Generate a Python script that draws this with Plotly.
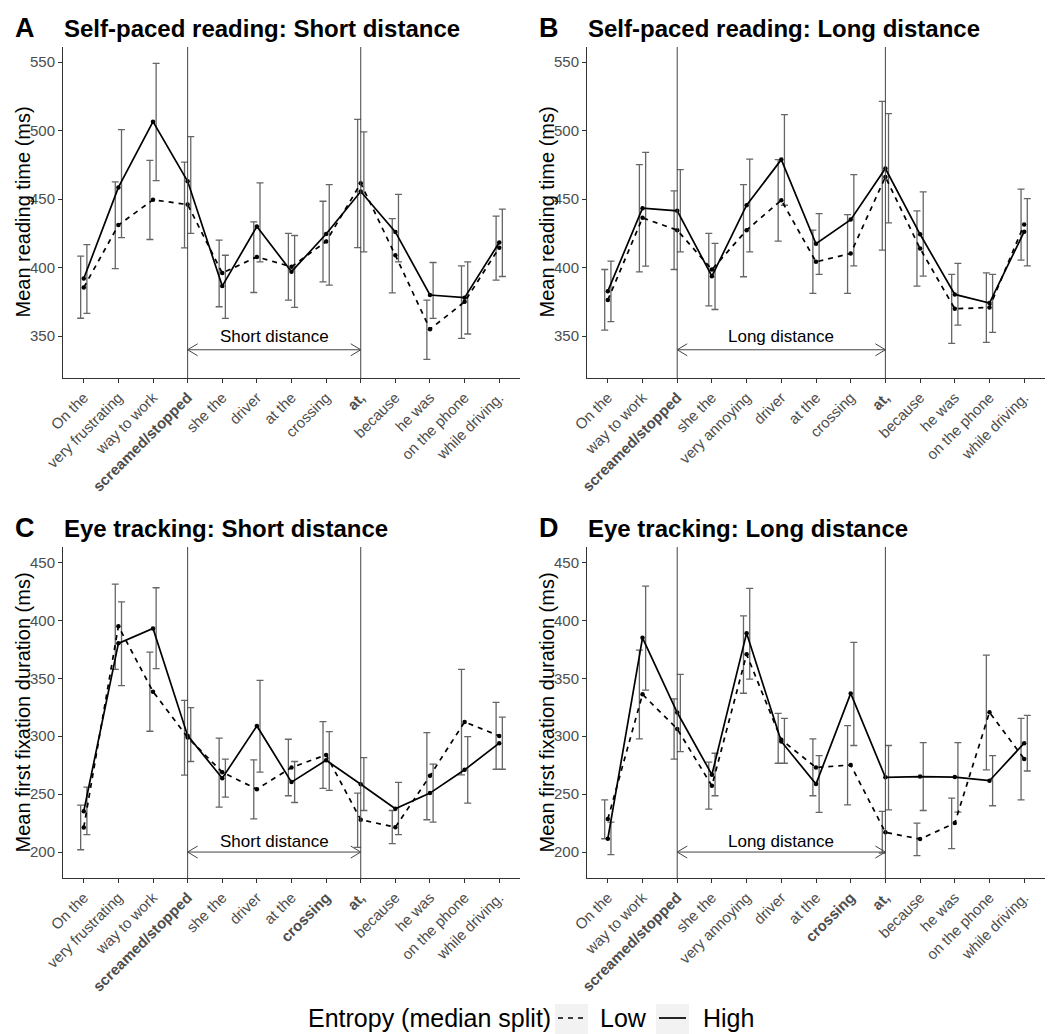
import plotly.graph_objects as go

# ---------------- data ----------------
cats_short = ["On the", "very frustrating", "way to work", "<b>screamed/stopped</b>", "she the", "driver",
              "at the", "crossing", "<b>at,</b>", "because", "he was", "on the phone", "while driving."]
cats_long = ["On the", "way to work", "<b>screamed/stopped</b>", "she the", "very annoying", "driver",
             "at the", "crossing", "<b>at,</b>", "because", "he was", "on the phone", "while driving."]
cats_short_et = ["On the", "very frustrating", "way to work", "<b>screamed/stopped</b>", "she the", "driver",
                 "at the", "<b>crossing</b>", "<b>at,</b>", "because", "he was", "on the phone", "while driving."]
cats_long_et = ["On the", "way to work", "<b>screamed/stopped</b>", "she the", "very annoying", "driver",
                "at the", "<b>crossing</b>", "<b>at,</b>", "because", "he was", "on the phone", "while driving."]

# Panel A: self-paced reading, short distance
low_mean_A = [385.5, 431, 449.5, 446, 396, 407.8, 400.6, 419, 461.5, 409, 355, 375, 414.5]
low_lo_A = [363, 399.3, 420.5, 414.4, 371.4, 381.8, 376.3, 389.6, 414.6, 381.6, 333, 348.3, 390.8]
low_hi_A = [408.3, 462.5, 478.3, 477, 420, 433.4, 424.9, 448.4, 508.2, 435.8, 376.3, 401.3, 437.5]
high_mean_A = [392, 458.5, 506.5, 463, 386.5, 430, 397, 424.5, 455.5, 426, 380, 378, 418.3]
high_lo_A = [366.5, 421.9, 463.5, 424.9, 362.9, 404.2, 370.9, 387.2, 411.5, 404.2, 362.9, 351.5, 393.5]
high_hi_A = [416.8, 500.7, 549, 495.6, 409, 461.8, 423.4, 460.6, 499, 453.5, 403.7, 404.2, 442.6]

# Panel B: self-paced reading, long distance
low_mean_B = [376.3, 436.3, 427.3, 398.6, 427.3, 449.2, 404.2, 410.3, 466.2, 413.9, 369.9, 370.9, 431.5]
low_lo_B = [354.4, 396.9, 398.6, 372.1, 393.3, 419.3, 381.1, 381.1, 412.7, 386.5, 344.7, 345.4, 405.4]
low_hi_B = [398.6, 475.2, 456, 424.9, 460.6, 478.8, 427.3, 438.7, 521.3, 441.4, 395, 396.2, 457.2]
high_mean_B = [382.8, 443.3, 441.4, 393.7, 445.5, 478.8, 417.4, 435, 472.3, 424.3, 380.4, 374.1, 426.2]
high_lo_B = [360.5, 401.0, 411.5, 369.4, 411.5, 445.5, 395, 401.3, 432.6, 393.7, 358, 352.7, 401.3]
high_hi_B = [404.7, 484.1, 471.5, 417.6, 479.2, 511.6, 439.4, 467.9, 512.3, 455.2, 403, 395, 450.4]

# Panel C: eye tracking, short distance
low_mean_C = [221.3, 395, 338.5, 299, 269, 254.3, 273, 283.9, 227.9, 221.5, 265.8, 312.4, 300.3]
low_lo_C = [202, 357.8, 304.3, 266.4, 238.8, 228.7, 248.6, 254.9, 204.0, 207.2, 227.9, 266.7, 271.5]
low_hi_C = [240.5, 431.3, 372.7, 331, 298.3, 279.6, 297.4, 312.6, 250.9, 235.9, 303.2, 357.8, 329.3]
high_mean_C = [235.2, 380.2, 393.1, 300.5, 263.8, 308.9, 260.4, 279.3, 258.6, 237.4, 250.9, 271, 294]
high_lo_C = [215, 343.7, 358.3, 278.2, 247.4, 269, 242.8, 253.2, 235.9, 215, 225.9, 242.2, 271.5]
high_hi_C = [256, 416.1, 428.2, 324.7, 280.2, 348.3, 278.2, 304, 281.6, 260.1, 275.9, 299.7, 316.5]

# Panel D: eye tracking, long distance
low_mean_D = [228.5, 336.2, 306.3, 257.2, 370.7, 297, 273, 275.2, 217, 211.2, 225, 320.7, 280.4]
low_lo_D = [211.5, 297.7, 280.2, 237.1, 337.1, 276.7, 248.6, 240.8, 199, 196.9, 202.9, 271, 245]
low_hi_D = [245.1, 374.4, 332.2, 277.6, 404, 319.8, 297.7, 309.2, 235.1, 225, 246.5, 370.1, 315.5]
high_mean_D = [211.5, 385, 320.5, 266.8, 389, 295.5, 258.7, 337, 264.5, 265.2, 264.7, 261.6, 294]
high_lo_D = [197.7, 339.9, 286.8, 248.6, 349.4, 276.7, 234.2, 292, 236.5, 235.9, 234.5, 240, 270]
high_hi_D = [225.9, 429.6, 353.4, 285.3, 427.6, 315.5, 283.3, 381, 292, 294.5, 294.5, 283.3, 318]

legend_title = "Entropy (median split)"
legend_labels = ["Low", "High"]

panels = [
    dict(letter="A", title="Self-paced reading: Short distance", cats=cats_short,
         low=(low_mean_A, low_lo_A, low_hi_A), high=(high_mean_A, high_lo_A, high_hi_A),
         vlines=(4, 9), span="Short distance", yrange=(319.4, 561), ytick=[350, 400, 450, 500, 550],
         ytitle="Mean reading time (ms)", arrow_y=340, text_y=349.5),
    dict(letter="B", title="Self-paced reading: Long distance", cats=cats_long,
         low=(low_mean_B, low_lo_B, low_hi_B), high=(high_mean_B, high_lo_B, high_hi_B),
         vlines=(3, 9), span="Long distance", yrange=(319.4, 561), ytick=[350, 400, 450, 500, 550],
         ytitle="Mean reading time (ms)", arrow_y=340, text_y=349.5),
    dict(letter="C", title="Eye tracking: Short distance", cats=cats_short_et,
         low=(low_mean_C, low_lo_C, low_hi_C), high=(high_mean_C, high_lo_C, high_hi_C),
         vlines=(4, 9), span="Short distance", yrange=(177.6, 463.4), ytick=[200, 250, 300, 350, 400, 450],
         ytitle="Mean first fixation duration (ms)", arrow_y=200, text_y=209),
    dict(letter="D", title="Eye tracking: Long distance", cats=cats_long_et,
         low=(low_mean_D, low_lo_D, low_hi_D), high=(high_mean_D, high_lo_D, high_hi_D),
         vlines=(3, 9), span="Long distance", yrange=(177.6, 463.4), ytick=[200, 250, 300, 350, 400, 450],
         ytitle="Mean first fixation duration (ms)", arrow_y=200, text_y=209),
]

# The page body has an 8px margin, so the figure is laid out in page pixels minus that offset
# and sized to end exactly at the window's right and bottom edges.
OFF = 8
W, H = 1059 - OFF, 1034 - OFF


def px(xp):
    return (xp - OFF) / W


def py(yp):
    return 1 - (yp - OFF) / H


FONT = "Liberation Sans, Arial, sans-serif"
# plot-area boxes in page pixels (left, right, top, bottom)
boxes = [(63, 520, 47, 378), (587, 1045, 47, 378), (63, 520, 547, 878), (587, 1045, 547, 878)]
dodge = 0.09
ERR_COL = "#666666"
DASH = "5px,5px"

fig = go.Figure()
layout = dict(width=W, height=H, margin=dict(l=0, r=0, t=0, b=0), plot_bgcolor="white",
              paper_bgcolor="white", font=dict(family=FONT, color="black"), shapes=[], annotations=[],
              showlegend=False)

for i, p in enumerate(panels):
    n = i + 1
    xa = "x" if n == 1 else f"x{n}"
    ya = "y" if n == 1 else f"y{n}"
    l, r, t, b = boxes[i]
    x = list(range(1, len(p["cats"]) + 1))
    for key, off in (("low", -dodge), ("high", dodge)):
        mean, lo, hi = p[key]
        fig.add_trace(go.Scatter(
            x=[v + off for v in x], y=mean, mode="markers", marker=dict(size=0.1, color="rgba(0,0,0,0)"),
            error_y=dict(type="data", symmetric=False,
                         array=[h - m for h, m in zip(hi, mean)],
                         arrayminus=[m - q for m, q in zip(mean, lo)],
                         color=ERR_COL, thickness=1.3, width=3.5),
            xaxis=xa, yaxis=ya, showlegend=False, hoverinfo="skip"))
    for key, name, dash in (("low", legend_labels[0], DASH), ("high", legend_labels[1], "solid")):
        mean = p[key][0]
        fig.add_trace(go.Scatter(
            x=x, y=mean, mode="lines+markers", name=name,
            line=dict(color="black", width=1.7, dash=dash),
            marker=dict(size=4.5, color="black"),
            xaxis=xa, yaxis=ya, showlegend=False, legendgroup=name))

    axis_common = dict(showgrid=False, zeroline=False, showline=True, linecolor="#333333", linewidth=1,
                       ticks="outside", ticklen=4, tickcolor="#333333", tickwidth=1, automargin=False)
    layout["xaxis" if n == 1 else f"xaxis{n}"] = dict(
        axis_common, domain=[px(l), px(r)], anchor=ya, range=[0.4, 13.6],
        tickmode="array", tickvals=x, ticktext=p["cats"], tickangle=-45,
        tickfont=dict(family=FONT, size=15, color="#4d4d4d"))
    layout["yaxis" if n == 1 else f"yaxis{n}"] = dict(
        axis_common, domain=[py(b), py(t)], anchor=xa, range=list(p["yrange"]),
        tickmode="array", tickvals=p["ytick"], tickfont=dict(family=FONT, size=15, color="#4d4d4d"))
    # y-axis title
    layout["annotations"].append(dict(xref="paper", yref="paper", x=px(l - 41), y=(py(t) + py(b)) / 2,
                                      text=p["ytitle"], textangle=-90, showarrow=False,
                                      xanchor="center", yanchor="middle",
                                      font=dict(family=FONT, size=20, color="black")))

    # vertical region lines
    for v in p["vlines"]:
        layout["shapes"].append(dict(type="line", xref=xa, yref=f"{ya} domain", x0=v, x1=v, y0=0, y1=1,
                                     line=dict(color="#444444", width=1)))
    # double-headed arrow
    v0, v1 = p["vlines"]
    ay = p["arrow_y"]
    layout["shapes"].append(dict(type="line", xref=xa, yref=ya, x0=v0, x1=v1, y0=ay, y1=ay,
                                 line=dict(color="#444444", width=1)))
    for vx, sgn in ((v0, 1), (v1, -1)):
        layout["shapes"].append(dict(type="path", xref=xa, yref=ya, xsizemode="pixel", ysizemode="pixel",
                                     xanchor=vx, yanchor=ay,
                                     path=f"M {10*sgn},6 L 0,0 L {10*sgn},-6",
                                     line=dict(color="#444444", width=1)))
    layout["annotations"].append(dict(xref=xa, yref=ya, x=(v0 + v1) / 2, y=p["text_y"], text=p["span"],
                                      showarrow=False, font=dict(family=FONT, size=17, color="black"),
                                      xanchor="center", yanchor="middle"))
    # panel letter and title
    layout["annotations"].append(dict(xref="paper", yref="paper", x=px(l - 38.5), y=py(t - 19),
                                      text=f"<b>{p['letter']}</b>", showarrow=False,
                                      font=dict(family=FONT, size=27, color="black"),
                                      xanchor="center", yanchor="middle"))
    layout["annotations"].append(dict(xref="paper", yref="paper", x=px(l - 1), y=py(t - 19),
                                      text=f"<b>{p['title']}</b>", showarrow=False,
                                      font=dict(family=FONT, size=24, color="black"),
                                      xanchor="left", yanchor="middle"))

# ---- legend (ggplot style keys with grey key backgrounds) ----
ly = py(1018)
layout["annotations"].append(dict(xref="paper", yref="paper", x=px(553), y=ly, text=legend_title,
                                  showarrow=False, xanchor="right", yanchor="middle",
                                  font=dict(family=FONT, size=25, color="black")))
for (kx0, kx1, tx), lab, dash in zip(((555, 588, 598), (656, 689, 701)), legend_labels, (DASH, "solid")):
    layout["shapes"].append(dict(type="rect", xref="paper", yref="paper", x0=px(kx0), x1=px(kx1),
                                 y0=py(1036), y1=py(1004), fillcolor="#f2f2f2", line=dict(width=0),
                                 layer="below"))
    layout["shapes"].append(dict(type="line", xref="paper", yref="paper", x0=px(kx0 + 3), x1=px(kx1 - 3),
                                 y0=ly, y1=ly, line=dict(color="black", width=1.7, dash=dash)))
    layout["annotations"].append(dict(xref="paper", yref="paper", x=px(tx), y=ly, text=lab,
                                      showarrow=False, xanchor="left", yanchor="middle",
                                      font=dict(family=FONT, size=25, color="black")))

fig.update_layout(**layout)
fig.write_html("out.html")
